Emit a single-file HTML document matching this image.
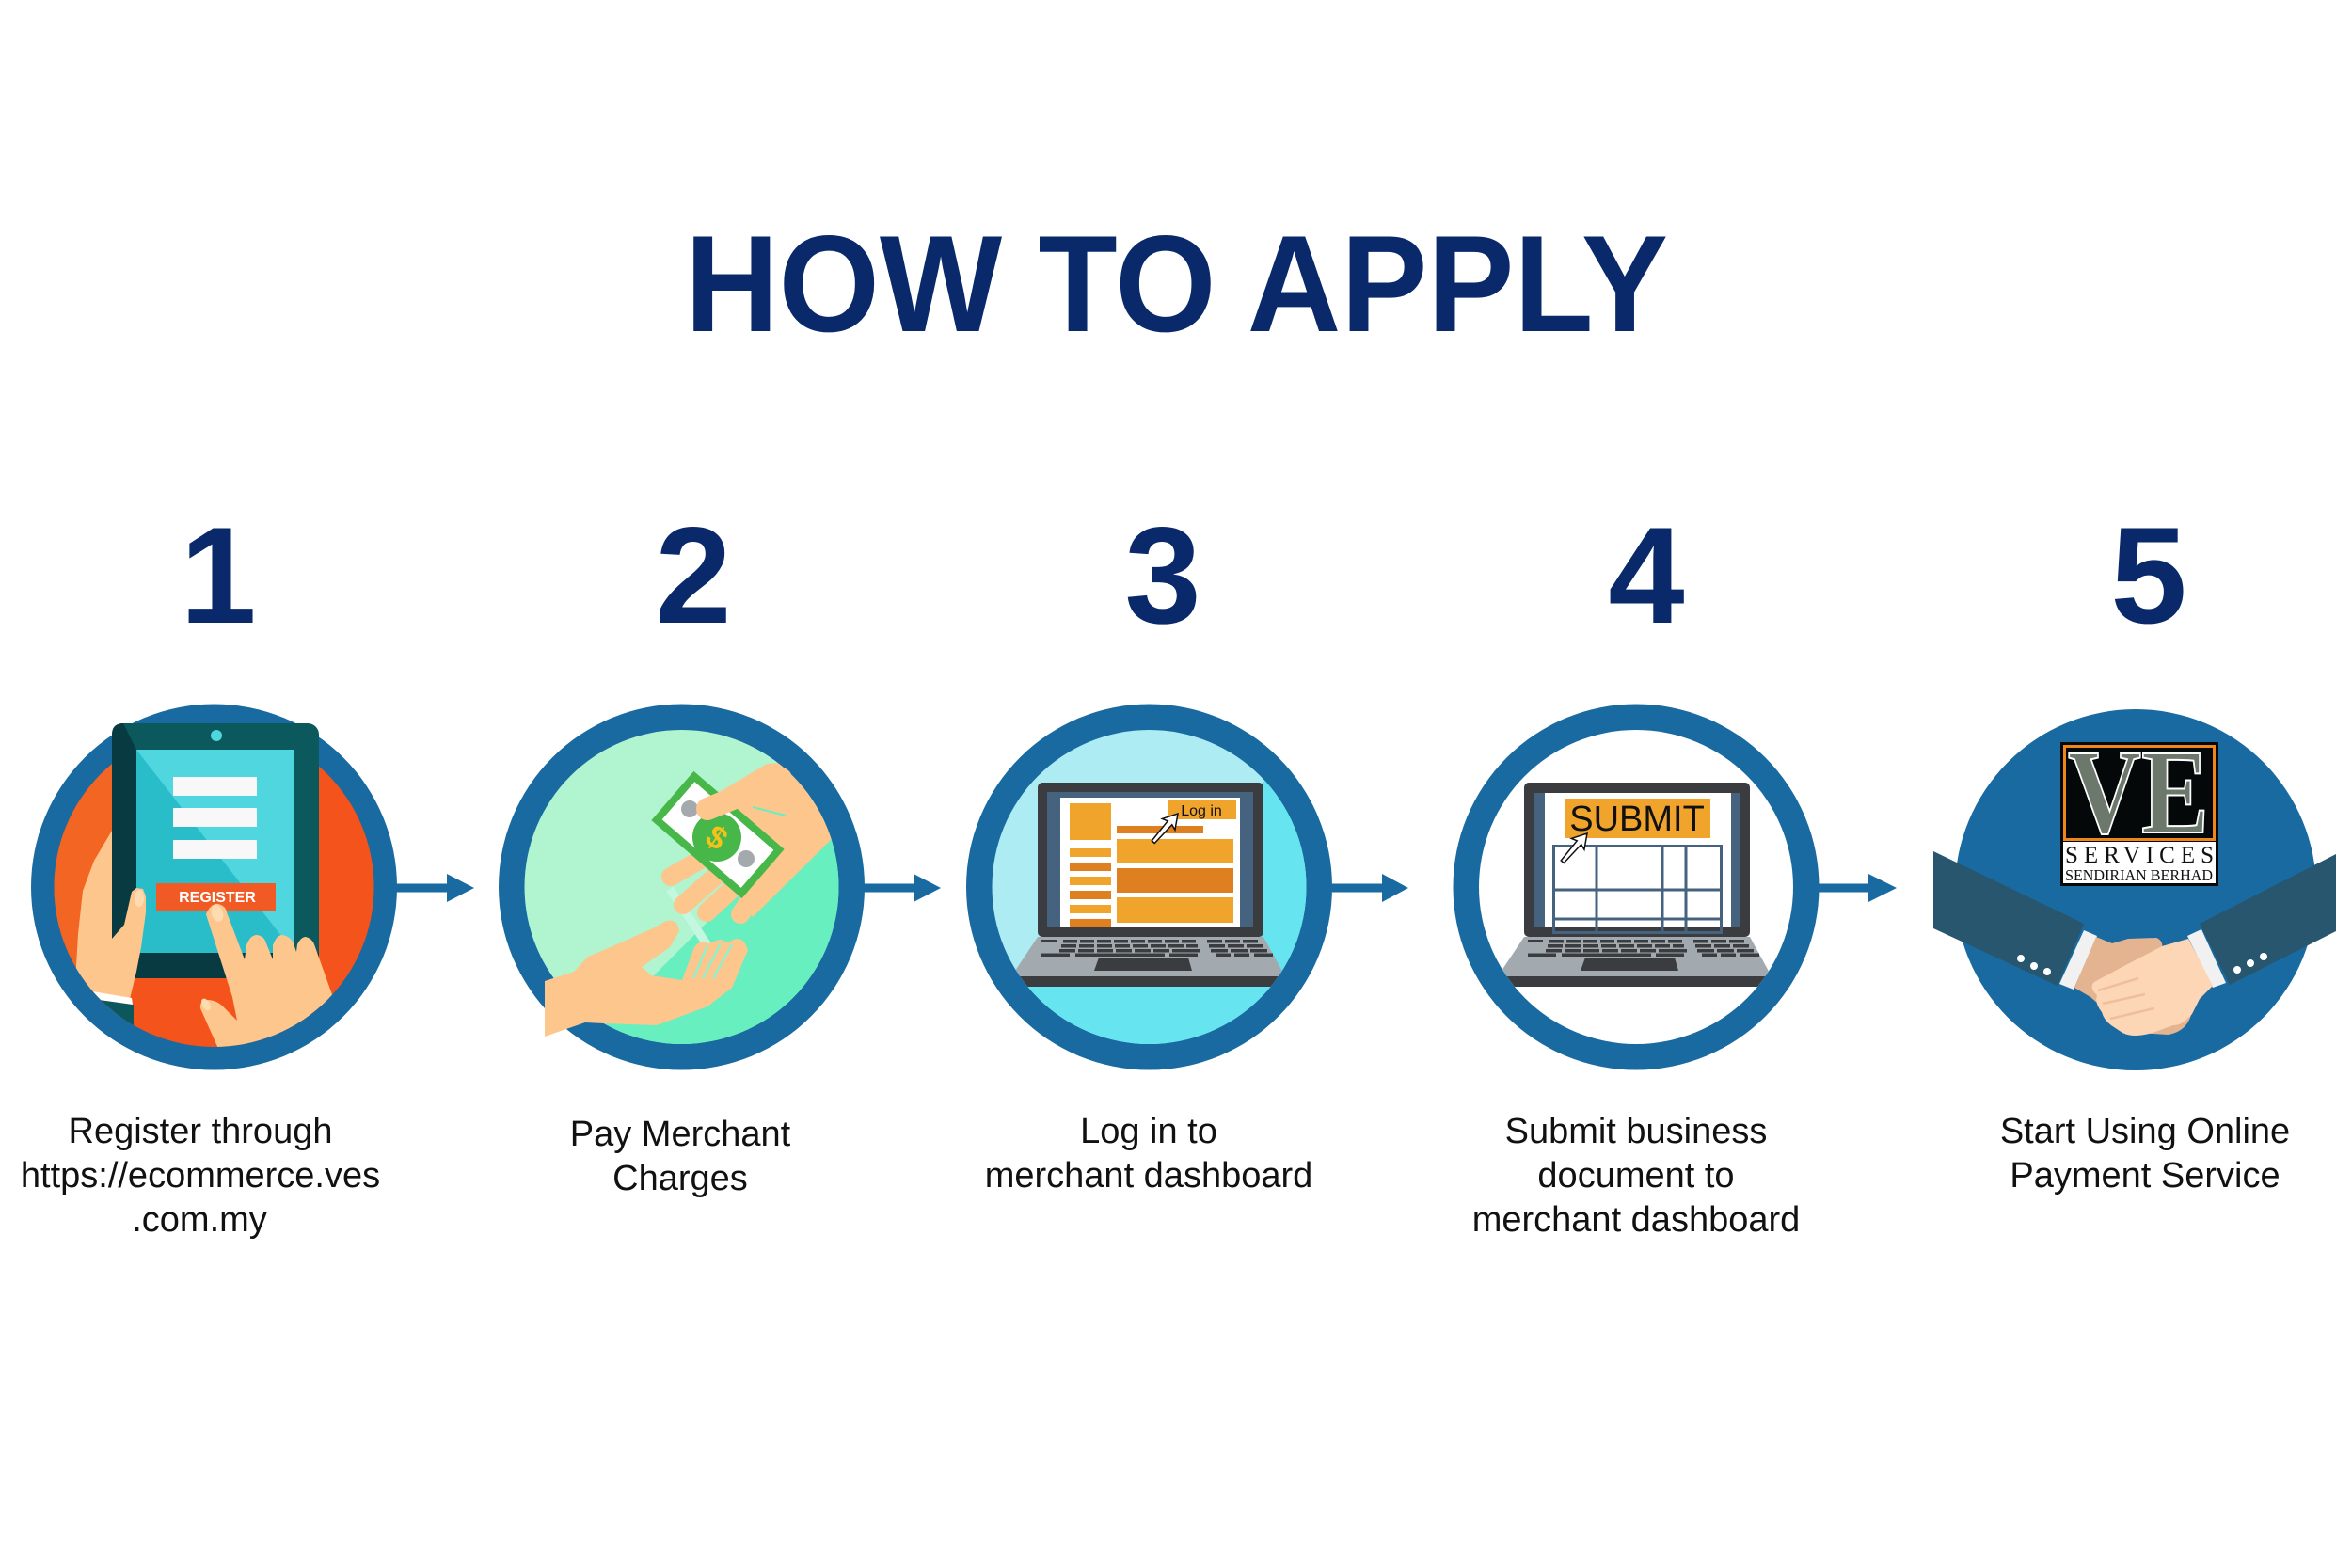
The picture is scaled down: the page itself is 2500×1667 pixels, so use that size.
<!DOCTYPE html>
<html><head><meta charset="utf-8"><style>
html,body{margin:0;padding:0;background:#fff;}
body{width:2500px;height:1667px;overflow:hidden;}
svg{display:block;}
</style></head><body>
<svg width="2500" height="1667" viewBox="0 0 2500 1667" xmlns="http://www.w3.org/2000/svg">
<defs>
 <clipPath id="c1"><circle cx="227.5" cy="943" r="170"/></clipPath>
 <clipPath id="c2"><circle cx="724.5" cy="943" r="167"/></clipPath>
 <clipPath id="c3"><circle cx="1221.5" cy="943" r="167"/></clipPath>
 <clipPath id="c4"><circle cx="1739" cy="943" r="167"/></clipPath>
 <g id="kb">
  <polygon points="1103,996 1343,996 1366,1038 1075,1038" fill="#a2aab0"/>
  <rect x="1075" y="1038" width="291" height="11" fill="#3a3c3f"/>
  <g fill="#3a3c3f">
   <rect x="1107" y="999" width="16" height="3"/>
   <rect x="1130" y="999" width="15" height="3.5"/><rect x="1148" y="999" width="15" height="3.5"/><rect x="1166" y="999" width="15" height="3.5"/><rect x="1184" y="999" width="15" height="3.5"/><rect x="1202" y="999" width="15" height="3.5"/><rect x="1220" y="999" width="15" height="3.5"/><rect x="1238" y="999" width="15" height="3.5"/><rect x="1256" y="999" width="15" height="3.5"/>
   <rect x="1283" y="999" width="16" height="3.5"/><rect x="1302" y="999" width="16" height="3.5"/><rect x="1321" y="999" width="16" height="3.5"/>
   <rect x="1128" y="1004" width="16" height="3.5"/><rect x="1147" y="1004" width="16" height="3.5"/><rect x="1166" y="1004" width="16" height="3.5"/><rect x="1185" y="1004" width="16" height="3.5"/><rect x="1204" y="1004" width="16" height="3.5"/><rect x="1223" y="1004" width="16" height="3.5"/><rect x="1242" y="1004" width="16" height="3.5"/><rect x="1261" y="1004" width="12" height="3.5"/>
   <rect x="1285" y="1004" width="17" height="3.5"/><rect x="1305" y="1004" width="17" height="3.5"/><rect x="1325" y="1004" width="17" height="3.5"/>
   <rect x="1126" y="1009" width="17" height="3.5"/><rect x="1146" y="1009" width="17" height="3.5"/><rect x="1166" y="1009" width="17" height="3.5"/><rect x="1186" y="1009" width="17" height="3.5"/><rect x="1206" y="1009" width="17" height="3.5"/><rect x="1226" y="1009" width="17" height="3.5"/><rect x="1246" y="1009" width="30" height="3.5"/>
   <rect x="1287" y="1009" width="18" height="3.5"/><rect x="1308" y="1009" width="18" height="3.5"/><rect x="1329" y="1009" width="18" height="3.5"/>
   <rect x="1107" y="1013.5" width="30" height="3.5"/><rect x="1143" y="1013.5" width="95" height="3.5"/><rect x="1243" y="1013.5" width="30" height="3.5"/>
   <rect x="1292" y="1013.5" width="16" height="3.5"/><rect x="1312" y="1013.5" width="16" height="3.5"/><rect x="1333" y="1013.5" width="20" height="3.5"/>
   <polygon points="1168,1018 1263,1018 1267,1032 1163,1032"/>
  </g>
 </g>
</defs>

<!-- Title -->
<text x="728" y="352" font-family="Liberation Sans, sans-serif" font-weight="bold" font-size="146" fill="#0a296b" textLength="1045" lengthAdjust="spacingAndGlyphs">HOW TO APPLY</text>

<!-- Numbers -->
<g font-family="Liberation Sans, sans-serif" font-weight="bold" font-size="146" fill="#0a296b" text-anchor="middle">
 <text x="232" y="662">1</text>
 <text x="737" y="662">2</text>
 <text x="1236" y="662">3</text>
 <text x="1750" y="662">4</text>
 <text x="2284" y="662">5</text>
</g>

<!-- Arrows -->
<g fill="#186aa1">
 <rect x="418" y="939.5" width="60" height="9"/><polygon points="475,929 504,944 475,959"/>
 <rect x="915" y="939.5" width="60" height="9"/><polygon points="971,929 1000,944 971,959"/>
 <rect x="1413" y="939.5" width="60" height="9"/><polygon points="1469,929 1497,944 1469,959"/>
 <rect x="1930" y="939.5" width="60" height="9"/><polygon points="1986,929 2016,944 1986,959"/>
</g>

<!-- Circle 1 -->
<circle cx="227.5" cy="943" r="194.5" fill="#186aa1"/>
<circle cx="227.5" cy="943" r="170" fill="#f4531b"/>
<g clip-path="url(#c1)">
 <polygon points="40,760 125,760 125,1130 40,1130" fill="#f26522"/>
</g>
<rect x="119" y="769" width="220" height="271" rx="12" fill="#0b585d"/>
<path d="M131,769 L145,797 L145,1013 L339,1013 L339,1028 Q339,1040 327,1040 L131,1040 Q119,1040 119,1028 L119,781 Q119,769 131,769 Z" fill="#073b41"/>
<rect x="145" y="797" width="168" height="216" fill="#4fd6de"/>
<polygon points="145,797 313,1013 145,1013" fill="#29bdca"/>
<circle cx="230" cy="782" r="6" fill="#4fd6de"/>
<g fill="#f8f8f8">
 <rect x="184" y="826" width="89" height="20"/>
 <rect x="184" y="859" width="89" height="20"/>
 <rect x="184" y="893" width="89" height="20"/>
</g>
<rect x="166" y="939" width="127" height="29" fill="#f15a24"/>
<text x="231" y="959" font-family="Liberation Sans, sans-serif" font-weight="bold" font-size="16" fill="#fff" text-anchor="middle">REGISTER</text>
<g clip-path="url(#c1)">
 <polygon points="119,883 100,915 88,947 83,993 81,1027 80,1058 100,1055 138,1062 145,1033 150,1007 155,970 155,953 152,945 145,944 140,948 132,983 119,998" fill="#fdc68d"/>
 <ellipse cx="148" cy="955" rx="5" ry="9" fill="#fddcb1"/>
 <polygon points="100,1060 142,1068 142,1100 90,1100" fill="#0b575c"/>
 <polygon points="98,1054 140,1061 141,1068 98,1062" fill="#ffffff"/>
 <path d="M219,972 Q224,960 232,961 Q240,963 241,970 L260,1020 L262,1005 Q266,994 273,994 Q281,995 283,1003 L290,1020 L290,1005 Q294,994 300,994 Q308,995 312,1003 L315,1012 L316,1004 Q320,996 325,996 Q332,998 334,1004 L355,1063 L380,1130 L240,1130 L233,1117 L213,1072 Q212,1064 220,1063 Q230,1063 237,1070 L252,1085 L247,1060 Z" fill="#fdc68d"/>
 <ellipse cx="231" cy="971" rx="6" ry="9" transform="rotate(-18 231 971)" fill="#fddcb1"/>
 <ellipse cx="219" cy="1068" rx="4" ry="7" transform="rotate(-30 219 1068)" fill="#fddcb1"/>
</g>

<!-- Circle 2 -->
<circle cx="724.5" cy="943" r="194.5" fill="#186aa1"/>
<circle cx="724.5" cy="943" r="167" fill="#b0f4d0"/>
<g clip-path="url(#c2)">
 <polygon points="992,740 992,1145 587,1145" fill="#68efc0"/>
 <line x1="712" y1="945" x2="752" y2="1005" stroke="#c3f7df" stroke-width="9"/>
 <polygon points="760,845 815,812 880,808 905,850 888,888 800,975 788,955 735,910" fill="#fdc68d"/>
 <g stroke="#fdc68d" stroke-width="20" stroke-linecap="round">
  <line x1="748" y1="912" x2="713" y2="932"/>
  <line x1="760" y1="932" x2="726" y2="962"/>
  <line x1="778" y1="945" x2="751" y2="970"/>
  <line x1="802" y1="950" x2="787" y2="972"/>
 </g>
</g>
<g transform="rotate(40.8 763 887.5)">
 <rect x="703.5" y="857" width="119" height="61" fill="#ffffff" stroke="#47b749" stroke-width="8"/>
</g>
<circle cx="762" cy="890" r="26" fill="#47b749"/>
<circle cx="733" cy="860" r="9" fill="#a4a9ad"/>
<circle cx="793" cy="913" r="9" fill="#a4a9ad"/>
<text x="762" y="902" font-family="Liberation Sans, sans-serif" font-weight="bold" font-size="34" fill="#f6c21a" text-anchor="middle" transform="rotate(35 762 890)">$</text>
<line x1="752" y1="860" x2="830" y2="828" stroke="#fdc68d" stroke-width="24" stroke-linecap="round"/>
<line x1="800" y1="858" x2="835" y2="867" stroke="#68efc0" stroke-width="2"/>
<path d="M579,1043 L610,1033 L625,1017 L658,1003 L698,985 Q712,974 720,982 L722,990 L712,1007 L682,1028 L692,1037 L725,1042 L738,1007 Q745,998 752,1003 L758,1002 Q766,996 772,1002 L776,1001 Q786,994 792,1003 L795,1010 L778,1050 L752,1070 L698,1090 L642,1088 L622,1087 L579,1102 Z" fill="#fdc68d"/>
<g stroke="#8ef1cc" stroke-width="2.5">
 <line x1="737" y1="1040" x2="752" y2="1005"/>
 <line x1="747" y1="1040" x2="766" y2="1003"/>
 <line x1="758" y1="1040" x2="778" y2="1004"/>
</g>

<!-- Circle 3 -->
<circle cx="1221.5" cy="943" r="194.5" fill="#186aa1"/>
<circle cx="1221.5" cy="943" r="167" fill="#aeecf4"/>
<g clip-path="url(#c3)">
 <polygon points="1420,767 1420,1145 966,1145" fill="#66e5f1"/>
 <rect x="1103" y="832" width="240" height="164" rx="5" fill="#3a3c3f"/>
 <rect x="1113" y="842" width="219" height="144" fill="#45637f"/>
 <rect x="1127" y="848" width="191" height="138" fill="#ffffff"/>
 <rect x="1137" y="854" width="44" height="39" fill="#f0a42c"/>
 <rect x="1137" y="902" width="44" height="9" fill="#f0a42c"/>
 <rect x="1137" y="917" width="44" height="9" fill="#de8020"/>
 <rect x="1137" y="932" width="44" height="9" fill="#f0a42c"/>
 <rect x="1137" y="947" width="44" height="9" fill="#de8020"/>
 <rect x="1137" y="962" width="44" height="9" fill="#f0a42c"/>
 <rect x="1137" y="977" width="44" height="9" fill="#de8020"/>
 <rect x="1187" y="878" width="92" height="8" fill="#de8020"/>
 <rect x="1187" y="892" width="124" height="26" fill="#f0a42c"/>
 <rect x="1187" y="923" width="124" height="26" fill="#de8020"/>
 <rect x="1187" y="954" width="124" height="27" fill="#f0a42c"/>
 <rect x="1241" y="851" width="73" height="20" fill="#f0a42c"/>
 <text x="1277" y="867" font-family="Liberation Sans, sans-serif" font-size="16" fill="#111" text-anchor="middle">Log in</text>
 <polygon points="0,0 9,15 3,13 2,40 -2,40 -3,13 -9,15" transform="translate(1252 865) rotate(-139) rotate(180)" fill="#fff" stroke="#111" stroke-width="1.5"/>
 <use href="#kb"/>
</g>

<!-- Circle 4 -->
<circle cx="1739" cy="943" r="194.5" fill="#186aa1"/>
<circle cx="1739" cy="943" r="167" fill="#ffffff"/>
<g clip-path="url(#c4)">
 <rect x="1620" y="832" width="240" height="164" rx="5" fill="#3a3c3f"/>
 <rect x="1631" y="843" width="219" height="143" fill="#45637f"/>
 <rect x="1642" y="843" width="198" height="143" fill="#ffffff"/>
 <rect x="1663" y="849" width="155" height="42" fill="#f0a42c"/>
 <text x="1740" y="883" font-family="Liberation Sans, sans-serif" font-size="38" fill="#111" text-anchor="middle">SUBMIT</text>
 <g fill="none" stroke="#45637f" stroke-width="3">
  <rect x="1651.5" y="899.5" width="178" height="92"/>
  <line x1="1697" y1="899" x2="1697" y2="990"/>
  <line x1="1767" y1="899" x2="1767" y2="990"/>
  <line x1="1792" y1="899" x2="1792" y2="990"/>
  <line x1="1651" y1="946" x2="1830" y2="946"/>
  <line x1="1651" y1="977" x2="1830" y2="977"/>
 </g>
 <polygon points="0,0 9,15 3,13 2,40 -2,40 -3,13 -9,15" transform="translate(1687 886) rotate(41)" fill="#fff" stroke="#111" stroke-width="1.5"/>
 <use href="#kb" transform="translate(517 0)"/>
</g>

<!-- Circle 5 -->
<circle cx="2270" cy="946" r="192" fill="#186aa1"/>
<rect x="2190" y="789" width="168" height="153" fill="#050808"/>
<rect x="2194.5" y="793.5" width="159" height="99" fill="#050808" stroke="#f08519" stroke-width="3"/>
<text x="2198" y="885" font-family="Liberation Serif, serif" font-weight="bold" font-size="128" fill="#6d786c" stroke="#ffffff" stroke-width="2" textLength="150" lengthAdjust="spacingAndGlyphs">VE</text>
<rect x="2193" y="895" width="162" height="44" fill="#ffffff"/>
<text x="2195" y="917" font-family="Liberation Serif, serif" font-size="25" fill="#111" textLength="158" lengthAdjust="spacing">SERVICES</text>
<text x="2195" y="936" font-family="Liberation Serif, serif" font-size="17" fill="#111" textLength="157" lengthAdjust="spacingAndGlyphs">SENDIRIAN BERHAD</text>
<polygon points="2055,905 2215,982 2187,1048 2055,987" fill="#27566e"/>
<polygon points="2483,908 2338,982 2370,1047 2483,990" fill="#27566e"/>
<polygon points="2215,989 2229,995 2204,1052 2189,1046" fill="#f1f1f1"/>
<polygon points="2325,995 2340,988 2366,1045 2352,1050" fill="#f1f1f1"/>
<g fill="#ffffff">
 <circle cx="2148" cy="1019" r="4"/><circle cx="2162" cy="1027" r="4"/><circle cx="2176" cy="1033" r="4"/>
 <circle cx="2378" cy="1031" r="4"/><circle cx="2392" cy="1024" r="4"/><circle cx="2406" cy="1017" r="4"/>
</g>
<path d="M2228,996 L2245,1003 L2262,998 L2292,997 Q2300,1000 2298,1010 L2300,1040 L2330,1075 Q2326,1096 2305,1100 L2270,1098 L2245,1080 L2222,1060 L2205,1050 Z" fill="#e4b491"/>
<path d="M2326,998 L2352,1048 L2338,1062 L2330,1078 Q2320,1090 2310,1090 L2288,1098 Q2268,1104 2256,1098 L2244,1090 Q2236,1084 2234,1076 Q2226,1066 2229,1058 Q2220,1050 2226,1044 L2252,1030 L2298,1006 Z" fill="#fdd6b5"/>
<g stroke="#eebf9d" stroke-width="2.5" fill="none">
 <line x1="2230" y1="1053" x2="2273" y2="1040"/>
 <line x1="2235" y1="1067" x2="2280" y2="1057"/>
 <line x1="2243" y1="1083" x2="2290" y2="1072"/>
</g>

<!-- Labels -->
<g font-family="Liberation Sans, sans-serif" font-size="38" fill="#111" text-anchor="middle">
 <text x="213" y="1215">Register through</text>
 <text x="213" y="1262">https://ecommerce.ves</text>
 <text x="212" y="1309">.com.my</text>
 <text x="723" y="1218">Pay Merchant</text>
 <text x="723" y="1265">Charges</text>
 <text x="1221" y="1215">Log in to</text>
 <text x="1221" y="1262">merchant dashboard</text>
 <text x="1739" y="1215">Submit business</text>
 <text x="1739" y="1262">document to</text>
 <text x="1739" y="1309">merchant dashboard</text>
 <text x="2280" y="1215">Start Using Online</text>
 <text x="2280" y="1262">Payment Service</text>
</g>
</svg>
</body></html>
